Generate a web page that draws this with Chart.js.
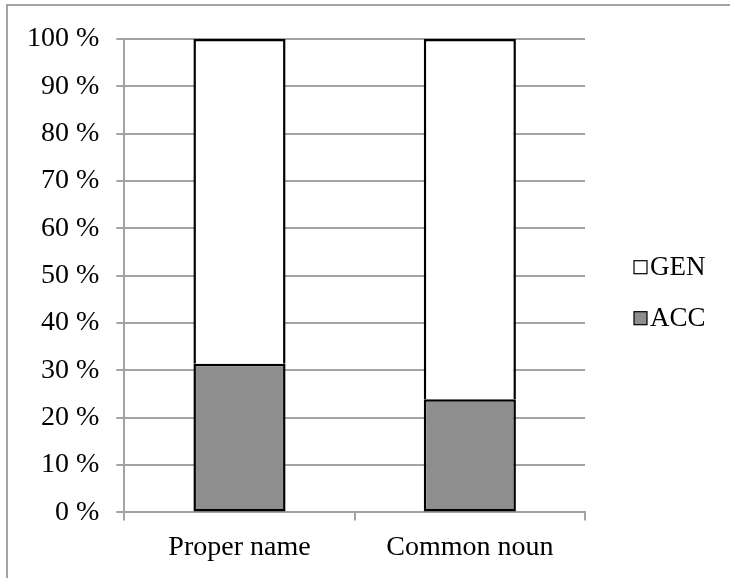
<!DOCTYPE html>
<html>
<head>
<meta charset="utf-8">
<script src="https://cdn.jsdelivr.net/npm/chart.js@4.4.1/dist/chart.umd.min.js"></script>
<style>
  html, body { margin: 0; padding: 0; background: #fff; }
  #wrap { position: relative; width: 730px; height: 578px; overflow: hidden; }
  #frame {
    position: absolute; left: 6px; top: 4px; width: 760px; height: 600px;
    border-left: 2px solid #a3a3a3; border-top: 2px solid #a3a3a3;
  }
  canvas { position: absolute; left: 0; top: 0; }
</style>
</head>
<body>
<div id="wrap">
  <div id="frame"></div>
  <canvas id="mainChart" width="730" height="578"></canvas>
</div>
<script>
const categories = ['Proper name', 'Common noun'];
const accValues = [31.4, 23.9];
const genValues = [68.6, 76.1];
const yTicks = [0, 10, 20, 30, 40, 50, 60, 70, 80, 90, 100];

const FONT = "'Liberation Serif', 'Times New Roman', serif";

// legend drawn by hand, GEN on top like the original
const sideLegend = {
    id: 'sideLegend',
    afterDraw(chart) {
        const { ctx, chartArea } = chart;
        const mid = (chartArea.top + chartArea.bottom) / 2 + 17;
        const items = chart.data.datasets.slice().reverse();
        ctx.save();
        ctx.font = '27px ' + FONT;
        ctx.textBaseline = 'middle';
        items.forEach((ds, i) => {
            const cy = mid + (i - 0.5) * 51;
            const x = chartArea.right + 49;
            ctx.fillStyle = ds.backgroundColor;
            ctx.fillRect(x, cy - 6.5, 13, 13);
            ctx.strokeStyle = '#000';
            ctx.lineWidth = 1.2;
            ctx.strokeRect(x, cy - 6.5, 13, 13);
            ctx.fillStyle = '#000';
            ctx.fillText(ds.label, x + 16, cy + 1);
        });
        ctx.restore();
    }
};

document.addEventListener("DOMContentLoaded", () => {
    const ctx = document.getElementById('mainChart');
    if (!ctx) return;

    new Chart(ctx, {
        type: 'bar',
        data: {
            labels: categories,
            datasets: [
                {
                    label: 'ACC',
                    data: accValues,
                    backgroundColor: '#8e8e8e',
                    borderColor: '#000',
                    borderWidth: 2.5,
                    borderSkipped: false,
                },
                {
                    label: 'GEN',
                    data: genValues,
                    backgroundColor: '#ffffff',
                    borderColor: '#000',
                    borderWidth: 2.5,
                    borderSkipped: 'bottom', // ACC top edge already draws the join
                }
            ]
        },
        options: {
            responsive: false,
            animation: false,
            events: [],
            layout: { padding: { left: 10, right: 145, top: 39, bottom: 4 } },
            datasets: { bar: { categoryPercentage: 1, barPercentage: 0.4 } },
            plugins: {
                legend: { display: false },
                tooltip: { enabled: false }
            },
            scales: {
                x: {
                    stacked: true,
                    offset: true,
                    grid: {
                        offset: true,
                        drawOnChartArea: false,
                        drawTicks: true,
                        tickLength: 8,
                        color: '#a3a3a3',
                        lineWidth: 2
                    },
                    border: { color: '#a3a3a3', width: 2 },
                    ticks: {
                        color: '#000',
                        padding: 10,
                        font: { family: FONT, size: 28 }
                    }
                },
                y: {
                    stacked: true,
                    min: 0,
                    max: 100,
                    afterBuildTicks: (axis) => {
                        axis.ticks = yTicks.map(v => ({ value: v }));
                    },
                    grid: {
                        color: '#a3a3a3',
                        lineWidth: 2,
                        tickLength: 8
                    },
                    border: { color: '#a3a3a3', width: 2 },
                    ticks: {
                        color: '#000',
                        padding: 17,
                        font: { family: FONT, size: 28 },
                        callback: (v) => v + ' %'
                    }
                }
            }
        },
        plugins: [sideLegend]
    });
});
</script>
</body>
</html>
